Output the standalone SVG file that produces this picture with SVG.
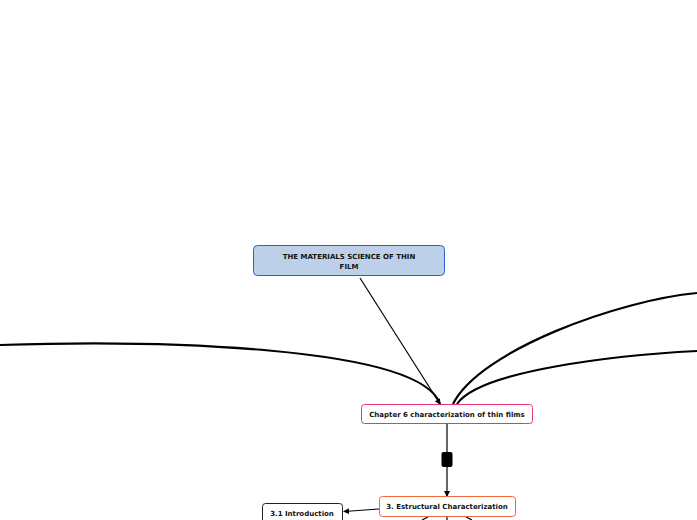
<svg xmlns="http://www.w3.org/2000/svg" width="697" height="520" viewBox="0 0 697 520">
<style>
text{font-family:"DejaVu Sans",Verdana,sans-serif;font-size:7px;font-weight:bold;fill:#111;text-anchor:middle}
.n{stroke-width:1}
.c{fill:none;stroke:#000;stroke-width:1.2}
.t{fill:none;stroke:#000;stroke-width:2.2}
</style>
<defs><marker id="a" markerWidth="6" markerHeight="6" refX="5" refY="3" orient="auto" markerUnits="userSpaceOnUse"><path d="M0,0 L6,3 L0,6z" fill="#000"/></marker></defs>
<rect width="697" height="520" fill="#fff"/>
<g id="connectors">
<path class="c" d="M360,278 L440,404" marker-end="url(#a)"/>
<path class="t" d="M0,345 C150,340 420,345 440,404"/>
<path class="t" d="M453,404 C480,350 620,300 697,293"/>
<path class="t" d="M457,404 C480,370 620,355 697,351"/>
<path class="c" d="M447,424 L447,496" marker-end="url(#a)"/>
<rect x="441.5" y="452" width="11" height="15" rx="2" fill="#000"/>
<path class="c" d="M379,509 L344,511.5" marker-end="url(#a)"/>
<path class="c" d="M428,517 L422,520"/>
<path class="c" d="M447,517 L447,520"/>
<path class="c" d="M466,517 L472,520"/>
</g>
<g id="n1"><rect class="n" x="253.5" y="245.5" width="191" height="30" rx="4" fill="#bcd0e9" stroke="#2a62c6"/><text x="349" y="259">THE MATERIALS SCIENCE OF THIN</text><text x="349" y="269">FILM</text></g>
<g id="n2"><rect class="n" x="361.5" y="404.5" width="171" height="19" rx="3" fill="#fff" stroke="#e8347c"/><text x="447" y="417">Chapter 6 characterization of thin films</text></g>
<g id="n3"><rect class="n" x="379.5" y="496.5" width="136" height="20" rx="3" fill="#fff" stroke="#ef6a3a"/><text x="447" y="509">3. Estructural Characterization</text></g>
<g id="n4"><rect class="n" x="262.5" y="503.5" width="80" height="20" rx="3" fill="#fff" stroke="#222"/><text x="302" y="516">3.1 Introduction</text></g>
</svg>
